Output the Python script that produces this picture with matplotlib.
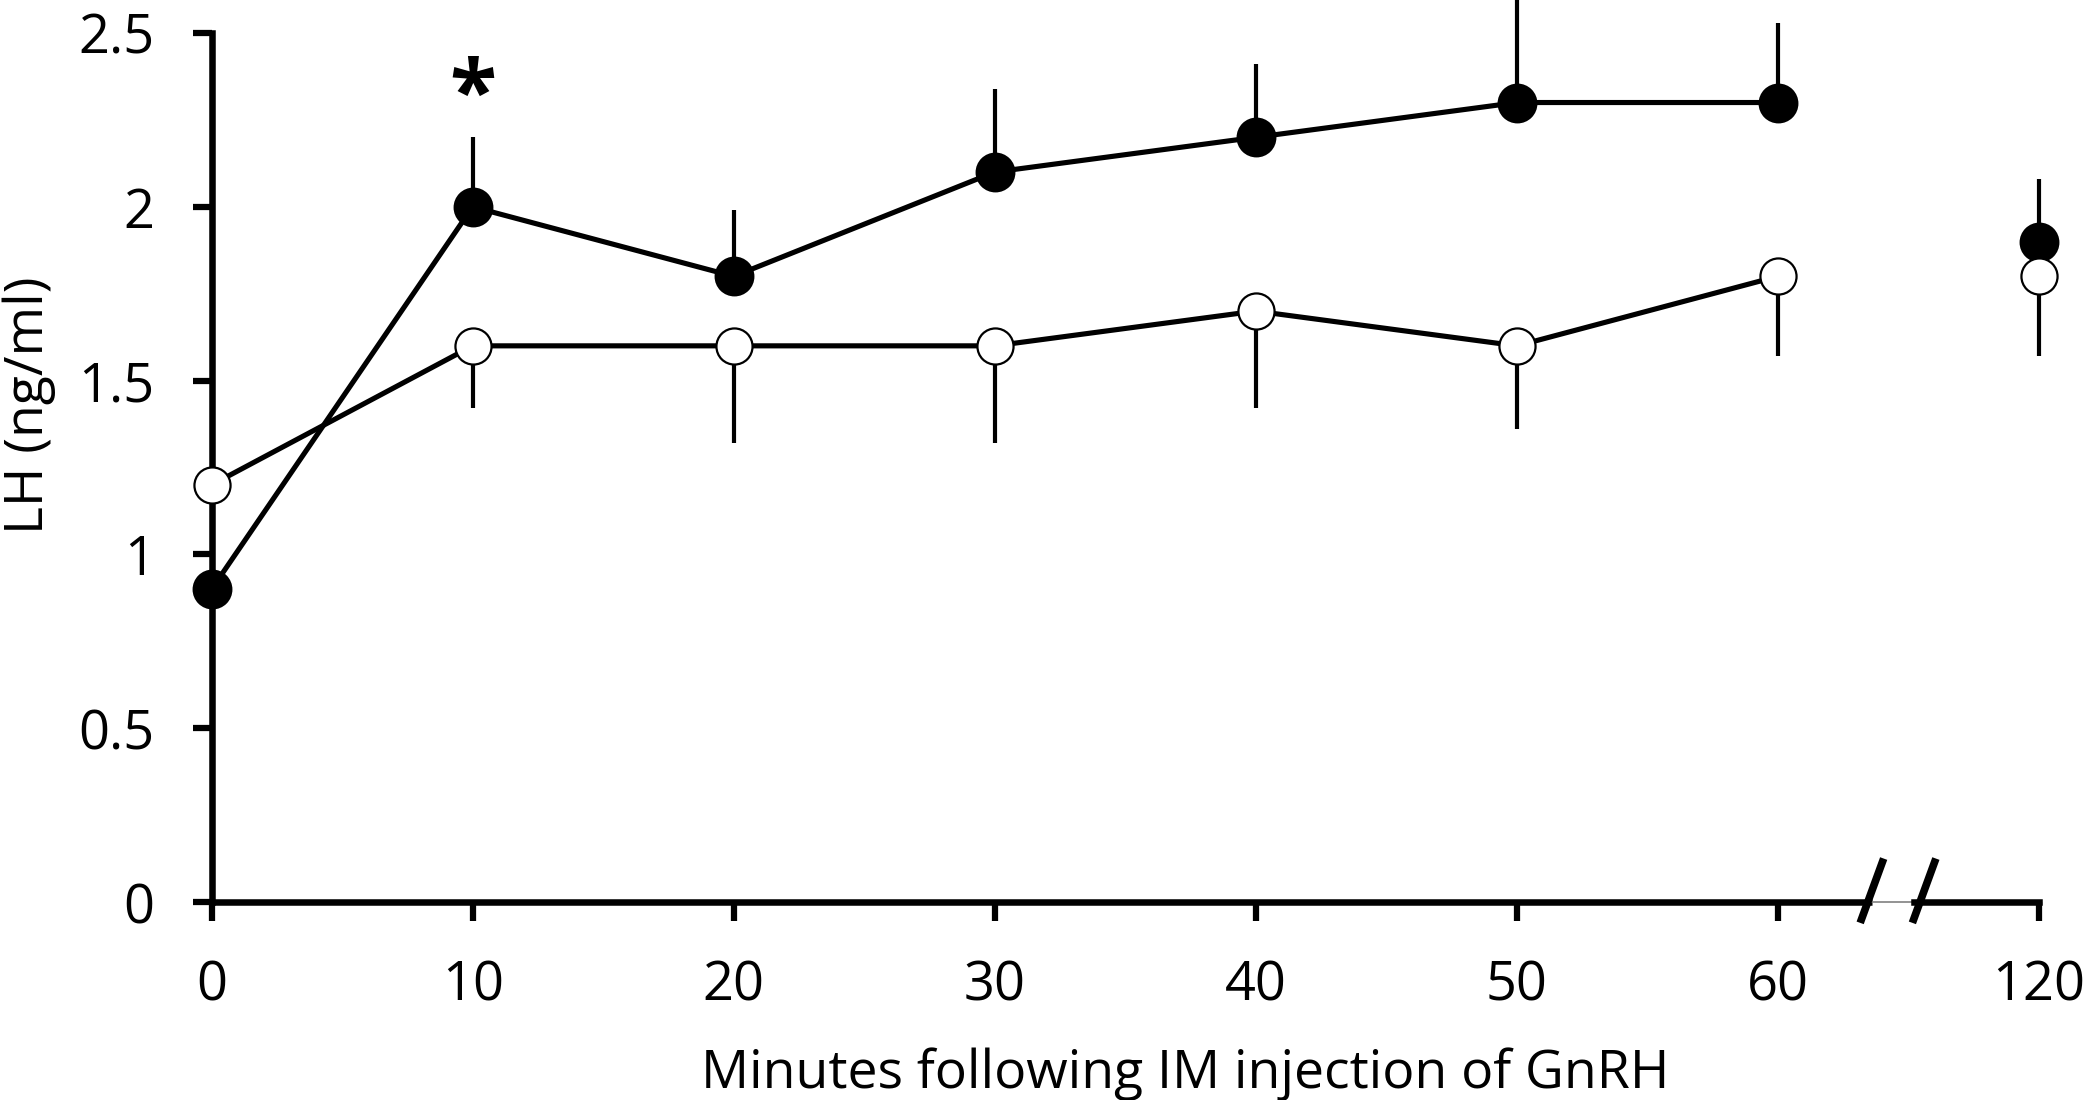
import matplotlib.pyplot as plt

plt.rcParams['font.family'] = ['Open Sans', 'DejaVu Sans']

# data
minutes = [0, 10, 20, 30, 40, 50, 60, 120]
tick_labels = ['0', '10', '20', '30', '40', '50', '60', '120']
lh_filled = [0.9, 2.0, 1.8, 2.1, 2.2, 2.3, 2.3, 1.9]
err_filled = [0.0, 0.2, 0.19, 0.24, 0.21, 0.3, 0.23, 0.18]   # upward only
lh_open = [1.2, 1.6, 1.6, 1.6, 1.7, 1.6, 1.8, 1.8]
err_open = [0.0, 0.18, 0.28, 0.28, 0.28, 0.24, 0.23, 0.23]   # downward only
y_ticks = [0, 0.5, 1, 1.5, 2, 2.5]
y_tick_labels = ['0', '0.5', '1', '1.5', '2', '2.5']

# 120 min is drawn after an axis break, at position 70
BREAK_POS = 70
xpos = [m if m <= 60 else BREAK_POS for m in minutes]
n_line = 7  # points joined by a line (0..60 min)

W, H = 2100, 1100
fig = plt.figure(figsize=(21, 11), dpi=100)
ax = fig.add_axes([211.6 / W, 1 - 902 / H, (2039 - 211.6) / W, 869 / H])
ax.set_xlim(0, BREAK_POS)
ax.set_ylim(0, 2.5)

zeros = [0] * len(minutes)
# error bars
ax.errorbar(xpos, lh_filled, yerr=[zeros, err_filled], fmt='none',
            ecolor='black', elinewidth=3.0, capsize=0, zorder=3, clip_on=False)
ax.errorbar(xpos, lh_open, yerr=[err_open, zeros], fmt='none',
            ecolor='black', elinewidth=3.0, capsize=0, zorder=3, clip_on=False)

# lines
ax.plot(xpos[:n_line], lh_filled[:n_line], color='black', lw=3.7, zorder=4, clip_on=False)
ax.plot(xpos[:n_line], lh_open[:n_line], color='black', lw=3.7, zorder=4, clip_on=False)

# markers
ax.plot(xpos, lh_filled, 'o', ms=27.5, mfc='black', mec='black', mew=1.2,
        ls='none', zorder=6, clip_on=False)
ax.plot(xpos, lh_open, 'o', ms=26, mfc='white', mec='black', mew=1.6,
        ls='none', zorder=6, clip_on=False)

# significance mark
ax.text(xpos[1], 2.31, '*', ha='center', va='center', fontsize=62,
        fontweight='bold', zorder=7)

# axes styling
for s in ['top', 'right', 'bottom']:
    ax.spines[s].set_visible(False)
ax.spines['left'].set_linewidth(4.7)
ax.spines['left'].set_zorder(2)

ax.set_yticks(y_ticks)
ax.set_yticklabels(y_tick_labels)
ax.set_xticks(xpos)
ax.set_xticklabels(tick_labels)
ax.tick_params(axis='both', direction='out', length=14, width=4.5,
               labelsize=39, pad=27)

# bottom axis with break
brk_a, brk_b = 63.6, 65.2
ax.plot([0, brk_a], [0, 0], color='black', lw=4.7, solid_capstyle='butt',
        clip_on=False, zorder=2)
ax.plot([brk_a, brk_b], [0, 0], color='grey', lw=1.2, clip_on=False, zorder=2)
ax.plot([brk_b, BREAK_POS], [0, 0], color='black', lw=4.7, solid_capstyle='projecting',
        clip_on=False, zorder=2)
for bx in (brk_a, brk_b + 0.4):
    ax.plot([bx - 0.45, bx + 0.45], [-0.06, 0.125], color='black', lw=5.5,
            solid_capstyle='butt', clip_on=False, zorder=3)

ax.set_xlabel('Minutes following IM injection of GnRH', fontsize=38.5, va='baseline')
ax.xaxis.set_label_coords((1185 - 211.6) / 1827.4, (902 - 1088) / 869)
ax.set_ylabel('LH (ng/ml)', fontsize=38.5, va='center', ha='center')
ax.yaxis.set_label_coords((29 - 211.6) / 1827.4, (902 - 405) / 869)

fig.savefig('out.png', dpi=100)
